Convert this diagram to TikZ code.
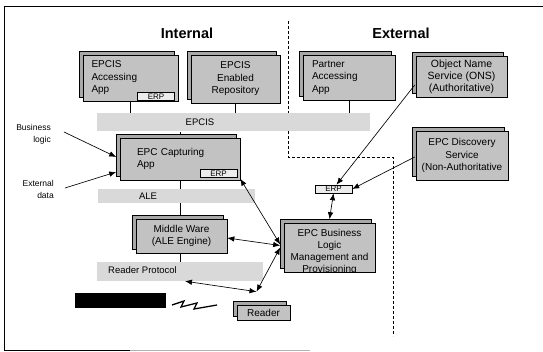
\documentclass[tikz,border=0pt]{standalone}
\usepackage{fontspec}
\setmainfont{Liberation Sans}
\usetikzlibrary{shadows,arrows.meta}
\begin{document}
\begin{tikzpicture}[x=1pt,y=-1pt,
  box/.style={draw=black, line width=0.6pt, fill=gray!48, inner sep=0pt,
    font=\fontsize{10}{12.5}\selectfont, align=center,
    copy shadow={shadow xshift=-3.5pt, shadow yshift=3.5pt, fill=gray!68, draw=black, line width=0.6pt}},
  band/.style={fill=gray!30, draw=none, inner sep=0pt},
  bandtext/.style={inner sep=0pt, font=\fontsize{9.5}{11}\selectfont},
  tag/.style={draw=black, line width=0.5pt, fill=gray!15, inner sep=0pt,
    font=\fontsize{8}{8}\selectfont, minimum width=37pt, minimum height=8pt},
  conn/.style={line width=0.5pt},
  arr/.style={line width=0.65pt, -{Latex[length=7pt,width=5.5pt]}},
  darr/.style={line width=0.65pt, {Latex[length=7pt,width=5.5pt]}-{Latex[length=7pt,width=5.5pt]}},
  bound/.style={line width=0.6pt, dash pattern=on 3pt off 2pt},
  sidelabel/.style={inner sep=0pt, align=right, font=\fontsize{8.5}{12}\selectfont},
  title/.style={inner sep=0pt, font=\bfseries\fontsize{14.5}{16}\selectfont}
]
\useasboundingbox (0,0) rectangle (543,352);

% frame
\draw[line width=0.8pt] (4.5,6) -- (543,6);
\draw[line width=0.8pt] (4.5,6) -- (4.5,350) -- (130,350);
\draw[line width=0.6pt, gray!60] (130,350) -- (310,350);

% titles
\node[title] (tint) at (187,33) {Internal};
\node[title] (text) at (401,33) {External};

% boundary
\draw[bound] (288,21) -- (288,157) -- (393,157) -- (393,336);

% bands
\node[band, minimum width=273pt, minimum height=18pt] (epcisband) at (233.5,122.5) {};
\node[bandtext] (epcistxt) at (200,122.5) {EPCIS};
\node[band, minimum width=157pt, minimum height=14pt] (aleband) at (176.5,196) {};
\node[bandtext] (aletxt) at (148,196.5) {ALE};
\node[band, minimum width=166pt, minimum height=19pt] (rpband) at (180,271.5) {};
\node[bandtext, anchor=west] (rptxt) at (108,270) {Reader Protocol};

% boxes
\node[box, minimum width=95pt, minimum height=46pt, text width=78pt, align=left] (acc) at (130.5,78) {EPCIS\\Accessing\\App};
\node[tag] (accerp) at (156,96.5) {ERP};
\node[box, minimum width=89pt, minimum height=48pt] (rep) at (235.5,79) {EPCIS\\Enabled\\Repository};
\node[box, minimum width=92pt, minimum height=45pt, text width=74pt, align=left] (partner) at (349,77.5) {Partner\\Accessing\\App};
\node[box, minimum width=91pt, minimum height=41pt, font=\fontsize{10.5}{12}\selectfont] (ons) at (461.5,76.5) {Object Name\\Service (ONS)\\(Authoritative)};
\node[box, minimum width=92pt, minimum height=49pt] (disc) at (462,155.5) {EPC Discovery\\Service\\(Non-Authoritative};
\node[box, minimum width=120pt, minimum height=42pt, text width=86pt, align=left] (cap) at (180,159) {EPC Capturing\\App};
\node[tag] (caperp) at (218.5,173.5) {ERP};
\node[box, minimum width=91pt, minimum height=34pt] (mw) at (181.5,236) {Middle Ware\\(ALE Engine)};
\node[box, minimum width=91pt, minimum height=49pt] (biz) at (329.5,247.5) {};
\begin{scope}
  \clip (biz.north west) rectangle (biz.south east);
  \node[inner sep=0pt, align=center, font=\fontsize{10}{12}\selectfont] (biztext) at (329.5,251.5) {EPC Business\\Logic\\Management and\\Provisioning};
\end{scope}
\node[box, minimum width=53pt, minimum height=15pt] (reader) at (263.5,312.5) {Reader};
\node[tag] (exterp) at (333.5,189) {ERP};

% black tag box
\node[fill=black, inner sep=0pt, minimum width=91pt, minimum height=15pt] (tagbox) at (120.5,300.5) {};

% wireless zigzag
\draw[line width=1.3pt] (172,305) -- (184,301) -- (181,307) -- (197,303) -- (194,309) -- (217,305);

% side labels
\node[sidelabel, anchor=east] (bl) at (51,134) {Business\\logic};
\node[sidelabel, anchor=east] (ed) at (54,189) {External\\data};

% vertical connectors
\draw[conn] (acc.south) -- (acc.south |- epcisband.north);
\draw[conn] (rep.south) -- (rep.south |- epcisband.north);
\draw[conn] (partner.south) -- (partner.south |- epcisband.north);
\draw[conn] (epcisband.south -| cap.north) -- ([yshift=3.5pt]cap.north);
\draw[conn] (cap.south |- aleband.north) -- (cap.south);
\draw[conn] (aleband.south -| cap.south) -- ([yshift=3.5pt]mw.north -| cap.south);
\draw[conn] (mw.south -| cap.south) -- (rpband.north -| cap.south);

% arrows
\draw[arr] ([xshift=13pt,yshift=2pt]bl.east) -- ([xshift=-3.5pt,yshift=2pt]cap.west);
\draw[arr] ([xshift=11pt,yshift=1pt]ed.east) -- ([xshift=-3.5pt,yshift=-13pt]cap.west);
\draw[arr] ([xshift=-1pt,yshift=-8.5pt]ons.west) -- ([xshift=3pt]exterp.north);
\draw[arr] ([xshift=-1pt,yshift=-1.5pt]disc.west) -- (exterp.east);
\draw[darr] (exterp.south) -- ([yshift=3.5pt]biz.north);
\draw[darr] ([xshift=3pt,yshift=-1pt]caperp.south east) -- ([xshift=-3.5pt,yshift=3pt]biz.west);
\draw[darr] ([yshift=-2pt]mw.east) -- ([xshift=-3.5pt,yshift=2pt]biz.west);
\draw[darr] ([xshift=-3.5pt,yshift=0pt]biz.west) -- ([xshift=-7pt,yshift=13pt]reader.north);
\draw[darr] ([xshift=5pt]rpband.south) -- ([xshift=-7pt,yshift=13pt]reader.north);
\end{tikzpicture}
\end{document}
